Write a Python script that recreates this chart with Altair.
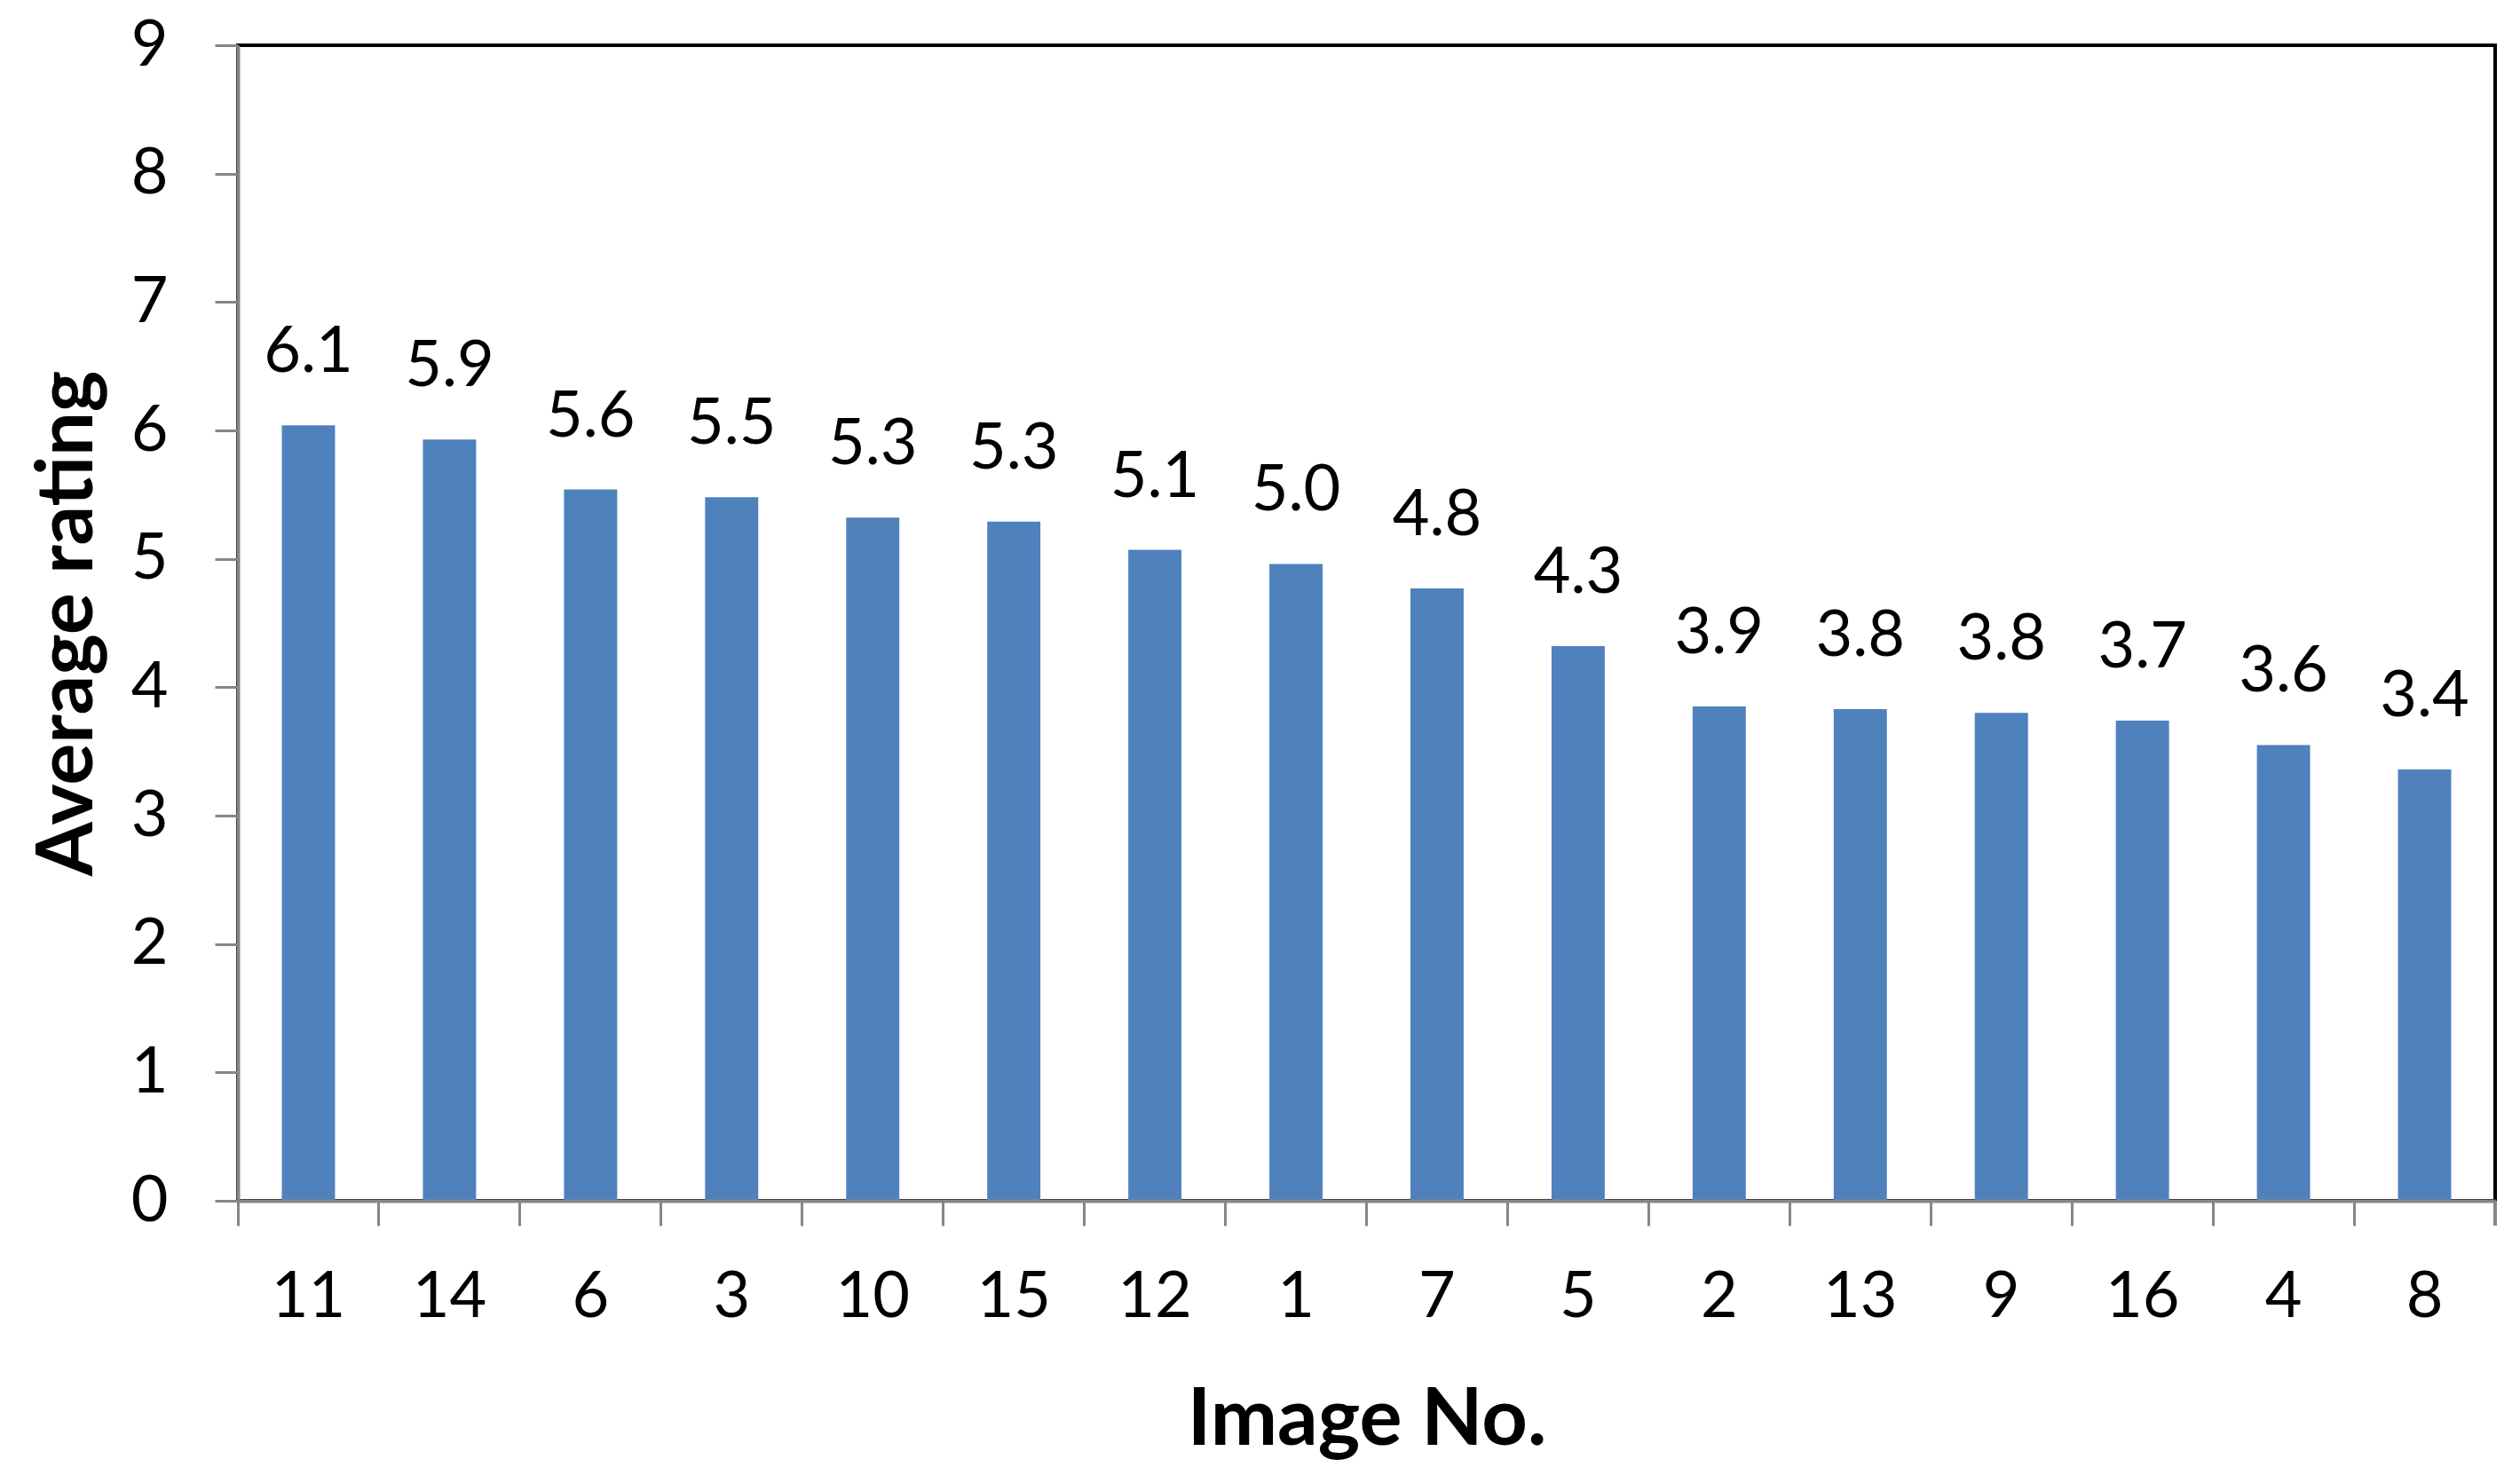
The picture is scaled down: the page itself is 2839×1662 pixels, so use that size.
import altair as alt
import pandas as pd

images = ["11", "14", "6", "3", "10", "15", "12", "1", "7", "5", "2", "13", "9", "16", "4", "8"]
ratings = [6.04, 5.93, 5.54, 5.48, 5.32, 5.29, 5.07, 4.96, 4.77, 4.32, 3.85, 3.83, 3.80, 3.74, 3.55, 3.36]
labels = ["6.1", "5.9", "5.6", "5.5", "5.3", "5.3", "5.1", "5.0", "4.8", "4.3", "3.9", "3.8", "3.8", "3.7", "3.6", "3.4"]
y_ticks = [0, 1, 2, 3, 4, 5, 6, 7, 8, 9]

W, H = 2543, 1302
FONT = "Lato"
GREY = "#868686"
BLUE = "#4F81BD"

df = pd.DataFrame({"image": images, "rating": ratings, "label": labels})

x_enc = alt.X(
    "image:N",
    sort=images,
    scale=alt.Scale(paddingInner=0, paddingOuter=0),
    axis=alt.Axis(
        title="Image No.",
        labelAngle=0,
        bandPosition=0,
        tickSize=28,
        tickWidth=3,
        tickColor=GREY,
        domainColor=GREY,
        domainWidth=4,
        labelFont=FONT,
        labelFontSize=72,
        labelColor="black",
        labelPadding=45,
        titleFont=FONT,
        titleFontSize=90,
        titleFontWeight="bold",
        titleColor="black",
        titleX=W / 2,
        titleY=247,
        titleBaseline="middle",
        titleAlign="center",
        zindex=1,
    ),
)

y_enc = alt.Y(
    "rating:Q",
    scale=alt.Scale(domain=[0, 9], nice=False),
    axis=alt.Axis(
        title="Average rating",
        values=y_ticks,
        format="d",
        grid=False,
        tickSize=26,
        tickWidth=3,
        tickColor=GREY,
        domainColor=GREY,
        domainWidth=4,
        labelFont=FONT,
        labelFontSize=72,
        labelColor="black",
        labelPadding=53,
        titleFont=FONT,
        titleFontSize=88,
        titleFontWeight="bold",
        titleColor="black",
        titleX=-191,
        titleY=H / 2,
        titleBaseline="middle",
        titleAlign="center",
        zindex=1,
    ),
)

bars = alt.Chart().mark_bar(width=alt.RelativeBandSize(0.377), color=BLUE).encode(x=x_enc, y=y_enc)

text = alt.Chart().mark_text(
    font=FONT, fontSize=72, baseline="middle", align="center", dy=-82, color="black"
).encode(x=alt.X("image:N", sort=images), y=alt.Y("rating:Q"), text="label:N")

end_tick = alt.Chart().mark_rule(color=GREY, strokeWidth=3).encode(
    x=alt.value(W), y=alt.value(H), y2=alt.value(H + 28)
)

chart = (
    alt.layer(bars, text, end_tick, data=df)
    .properties(
        width=W,
        height=H,
        autosize="none",
        padding={"left": 260, "top": 43, "right": 20, "bottom": 305},
        background="white",
    )
    .configure_view(stroke="black", strokeWidth=4)
)

chart.save("out.html", embed_options={"renderer": "svg", "actions": False})
